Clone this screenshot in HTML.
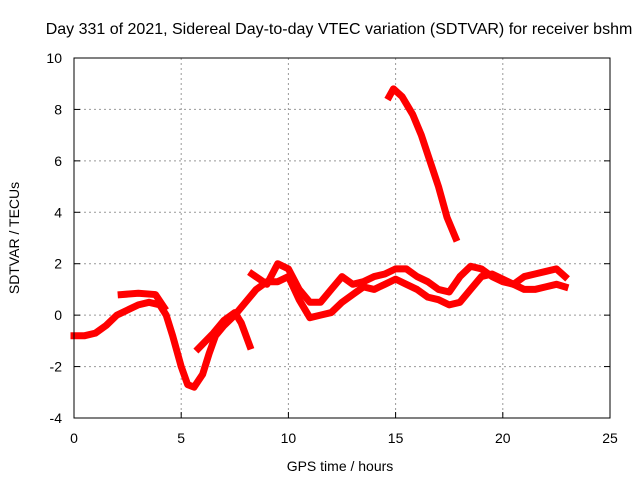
<!DOCTYPE html>
<html><head><meta charset="utf-8"><style>
body{margin:0;background:#fff}
svg{font-family:"Liberation Sans",sans-serif;font-size:14px}
</style></head><body>
<svg width="640" height="480">
<text x="339" y="34" text-anchor="middle" style="font-size:16px">Day 331 of 2021, Sidereal Day-to-day VTEC variation (SDTVAR) for receiver bshm</text>
<g id="grid"></g>
<g id="series"></g>
<rect x="74" y="58" width="536" height="360" fill="none" stroke="#000"/>
<g id="ticks"></g>
<text x="340" y="471" text-anchor="middle">GPS time / hours</text>
<text transform="translate(19,238) rotate(-90)" text-anchor="middle">SDTVAR / TECUs</text>
</svg>
<script>
const xTicks=[0,5,10,15,20,25];
const yTicks=[-4,-2,0,2,4,6,8,10];
const seriesA=[[0,-0.8],[0.5,-0.8],[1,-0.7],[1.5,-0.4],[2,0],[2.5,0.2],[3,0.4],[3.5,0.5],[4,0.4],[4.3,0],[4.6,-0.8],[5,-2],[5.3,-2.7],[5.6,-2.8],[6,-2.3],[6.3,-1.5],[6.6,-0.8],[7,-0.4],[7.5,0],[8,0.5],[8.5,1],[9,1.3],[9.5,1.3],[10,1.5],[10.5,0.6],[11,-0.1],[11.5,0],[12,0.1],[12.5,0.5],[13,0.8],[13.5,1.1],[14,1.0],[14.5,1.2],[15,1.4],[15.5,1.2],[16,1.0],[16.5,0.7],[17,0.6],[17.5,0.4],[18,0.5],[18.5,1.0],[19,1.5],[19.5,1.6],[20,1.4],[20.5,1.2],[21,1.0],[21.5,1.0],[22,1.1],[22.5,1.2],[22.9,1.1]];
const seriesB=[[2.2,0.8],[3,0.85],[3.8,0.8],[4.2,0.3]];
const seriesE=[[5.8,-1.3],[6.5,-0.7],[7,-0.2],[7.5,0.1],[7.8,-0.3],[8.2,-1.2]];
const seriesC=[[8.3,1.6],[9,1.2],[9.5,2],[10,1.8],[10.5,1],[11,0.5],[11.5,0.5],[12,1],[12.5,1.5],[13,1.2],[13.5,1.3],[14,1.5],[14.5,1.6],[15,1.8],[15.5,1.8],[16,1.5],[16.5,1.3],[17,1.0],[17.5,0.9],[18,1.5],[18.5,1.9],[19,1.8],[19.5,1.5],[20,1.3],[20.5,1.2],[21,1.5],[21.5,1.6],[22,1.7],[22.5,1.8],[22.9,1.5]];
const seriesD=[[14.7,8.5],[14.9,8.8],[15.3,8.5],[15.8,7.8],[16.2,7],[16.6,6],[17,5],[17.4,3.8],[17.8,3.0]];
const NS='http://www.w3.org/2000/svg';
const X=v=>74+v*536/25, Y=v=>58+(10-v)*360/14;
const grid=document.getElementById('grid'),ticks=document.getElementById('ticks'),ser=document.getElementById('series');
function mk(t,a,p){const e=document.createElementNS(NS,t);for(const k in a)e.setAttribute(k,a[k]);p.appendChild(e);return e;}
xTicks.forEach(v=>{
 if(v>0&&v<25){const g=mk('line',{x1:X(v),x2:X(v),y1:58,y2:418,stroke:'#999','stroke-dasharray':'2,3'},grid);
 
 }
 const t=mk('text',{x:X(v),y:443,'text-anchor':'middle'},ticks);t.textContent=v;
 
 
 mk('line',{x1:X(v),x2:X(v),y1:418,y2:412,stroke:'#000'},ticks);
});
yTicks.forEach(v=>{
 if(v>-4&&v<10){const g=mk('line',{x1:74,x2:610,y1:Y(v),y2:Y(v),stroke:'#999','stroke-dasharray':'2,3'},grid);
 
 }
 const t=mk('text',{x:62,y:Y(v)+5,'text-anchor':'end'},ticks);t.textContent=v;
 
 
 mk('line',{x1:74,x2:80,y1:Y(v),y2:Y(v),stroke:'#000'},ticks);
 mk('line',{x1:610,x2:604,y1:Y(v),y2:Y(v),stroke:'#000'},ticks);
});
[seriesA,seriesB,seriesE,seriesC,seriesD].forEach((s,i)=>{
 const p=mk('polyline',{points:s.map(d=>X(d[0])+','+Y(d[1])).join(' '),fill:'none',stroke:'#f00','stroke-width':7,'stroke-linejoin':'round','stroke-linecap':'square'},ser);
 
 
});
</script>
</body></html>
